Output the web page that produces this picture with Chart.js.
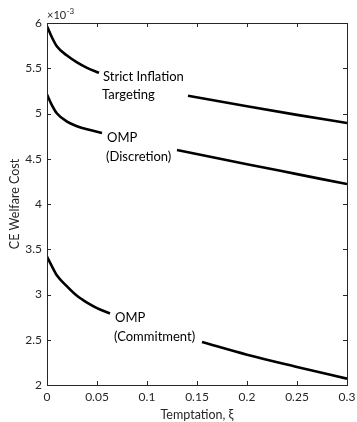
<!DOCTYPE html>
<html lang="en">
  <head>
    <meta charset="UTF-8" />
    <title>CE Welfare Cost vs Temptation</title>
    <script src="https://cdn.jsdelivr.net/npm/chart.js"></script>
    <style>
      html, body { margin: 0; padding: 0; background: #fff; }
      #wrap { position: relative; width: 357px; height: 422px; }
    </style>
  </head>
  <body>
    <div id="wrap"><canvas id="myChart" width="357" height="422"></canvas></div>
  </body>
</html>

<script>
  // valores em unidades de 10^-3
  var xTicks = [0, 0.05, 0.1, 0.15, 0.2, 0.25, 0.3];
  var yTicks = [2, 2.5, 3, 3.5, 4, 4.5, 5, 5.5, 6];

  // Strict Inflation Targeting (a linha some atrás do texto)
  var xStrictA = [0, 0.005, 0.01, 0.02, 0.03, 0.04, 0.052];
  var yStrictA = [5.965, 5.84, 5.74, 5.64, 5.565, 5.505, 5.45];
  var xStrictB = [0.141, 0.2, 0.25, 0.3];
  var yStrictB = [5.197, 5.08, 4.985, 4.895];

  // OMP (Discretion)
  var xDiscA = [0, 0.005, 0.01, 0.02, 0.03, 0.04, 0.055];
  var yDiscA = [5.21, 5.09, 5.0, 4.91, 4.86, 4.825, 4.785];
  var xDiscB = [0.13, 0.2, 0.25, 0.3];
  var yDiscB = [4.597, 4.44, 4.33, 4.22];

  // OMP (Commitment)
  var xCommA = [0, 0.005, 0.01, 0.02, 0.03, 0.04, 0.05, 0.063];
  var yCommA = [3.42, 3.31, 3.21, 3.09, 2.985, 2.91, 2.85, 2.79];
  var xCommB = [0.155, 0.2, 0.25, 0.3];
  var yCommB = [2.475, 2.335, 2.2, 2.07];

  // rótulos das curvas (posição em coordenadas dos dados)
  var labelTexts = [["Strict Inflation", "Targeting"], ["OMP", "(Discretion)"], ["OMP", "(Commitment)"]];
  var labelX = [0.056, 0.06, 0.068];
  var labelY = [5.408, 4.73, 2.742];

  var fonte = "Lato, 'Open Sans', sans-serif";
  var corTexto = "#262626";

  function montarPontos(xa, ya, xb, yb) {
    var pts = [];
    for (var i = 0; i < xa.length; i++) pts.push({ x: xa[i], y: ya[i] });
    pts.push({ x: (xa[xa.length - 1] + xb[0]) / 2, y: null });
    for (var j = 0; j < xb.length; j++) pts.push({ x: xb[j], y: yb[j] });
    return pts;
  }

  function serie(label, pts) {
    return {
      label: label,
      data: pts,
      borderColor: "#000",
      borderWidth: 2.6,
      pointRadius: 0,
      fill: false,
      spanGaps: false,
      cubicInterpolationMode: "monotone",
    };
  }

  function formatar(v) {
    return String(Math.round(v * 1000) / 1000);
  }

  // caixa, ticks para dentro, expoente e rótulos
  var extras = {
    id: "extras",
    afterDraw: function (chart) {
      var ctx = chart.ctx;
      var a = chart.chartArea;
      var sx = chart.scales.x;
      var sy = chart.scales.y;
      ctx.save();
      ctx.strokeStyle = corTexto;
      ctx.lineWidth = 1;
      ctx.strokeRect(Math.round(a.left) + 0.5, Math.round(a.top) + 0.5,
        Math.round(a.right - a.left), Math.round(a.bottom - a.top));

      var t = 4;
      ctx.beginPath();
      xTicks.forEach(function (v) {
        var px = Math.round(sx.getPixelForValue(v)) + 0.5;
        ctx.moveTo(px, a.bottom); ctx.lineTo(px, a.bottom - t);
        ctx.moveTo(px, a.top); ctx.lineTo(px, a.top + t);
      });
      yTicks.forEach(function (v) {
        var py = Math.round(sy.getPixelForValue(v)) + 0.5;
        ctx.moveTo(a.left, py); ctx.lineTo(a.left + t, py);
        ctx.moveTo(a.right, py); ctx.lineTo(a.right - t, py);
      });
      ctx.stroke();

      // x10^-3
      ctx.fillStyle = corTexto;
      ctx.textBaseline = "alphabetic";
      ctx.textAlign = "left";
      ctx.font = "11px " + fonte;
      ctx.fillText("\u00d710", a.left, a.top - 4);
      var w = ctx.measureText("\u00d710").width;
      ctx.font = "8px " + fonte;
      ctx.fillText("-3", a.left + w + 0.5, a.top - 9);

      ctx.font = "13px " + fonte;
      ctx.textBaseline = "middle";
      ctx.fillStyle = "#000";
      for (var i = 0; i < labelTexts.length; i++) {
        var lx = sx.getPixelForValue(labelX[i]);
        var ly = sy.getPixelForValue(labelY[i]);
        ctx.fillText(labelTexts[i][0], lx, ly);
        ctx.fillText(labelTexts[i][1], lx - 1, ly + 18.5);
      }
      ctx.restore();
    },
  };

  const ctx = document.getElementById("myChart");
  new Chart(ctx, {
    type: "line",
    data: {
      datasets: [
        serie("Strict Inflation Targeting", montarPontos(xStrictA, yStrictA, xStrictB, yStrictB)),
        serie("OMP (Discretion)", montarPontos(xDiscA, yDiscA, xDiscB, yDiscB)),
        serie("OMP (Commitment)", montarPontos(xCommA, yCommA, xCommB, yCommB)),
      ],
    },
    options: {
      responsive: false,
      animation: false,
      layout: { padding: { top: 23, right: 10, left: 0, bottom: 0 } },
      plugins: {
        legend: { display: false },
        tooltip: { enabled: false },
      },
      scales: {
        x: {
          type: "linear",
          min: 0,
          max: 0.3,
          afterBuildTicks: function (s) {
            s.ticks = xTicks.map(function (v) { return { value: v }; });
          },
          afterFit: function (s) {
            s.height = 37;
            s.paddingRight = 0;
          },
          grid: { display: false, drawTicks: false },
          border: { display: false },
          ticks: {
            color: corTexto,
            font: { family: fonte, size: 12 },
            padding: 5,
            maxRotation: 0,
            autoSkip: false,
            callback: formatar,
          },
          title: {
            display: true,
            text: "Temptation, \u03be",
            color: corTexto,
            font: { family: fonte, size: 12.5 },
            padding: { top: 3, bottom: 0 },
          },
        },
        y: {
          type: "linear",
          min: 2,
          max: 6,
          afterBuildTicks: function (s) {
            s.ticks = yTicks.map(function (v) { return { value: v }; });
          },
          afterFit: function (s) { s.width = 47; },
          grid: { display: false, drawTicks: false },
          border: { display: false },
          ticks: {
            color: corTexto,
            font: { family: fonte, size: 12 },
            padding: 5,
            autoSkip: false,
            callback: formatar,
          },
          title: {
            display: true,
            text: "CE Welfare Cost",
            color: corTexto,
            font: { family: fonte, size: 12.5 },
            padding: { top: 7, bottom: 0 },
          },
        },
      },
    },
    plugins: [extras],
  });
</script>
